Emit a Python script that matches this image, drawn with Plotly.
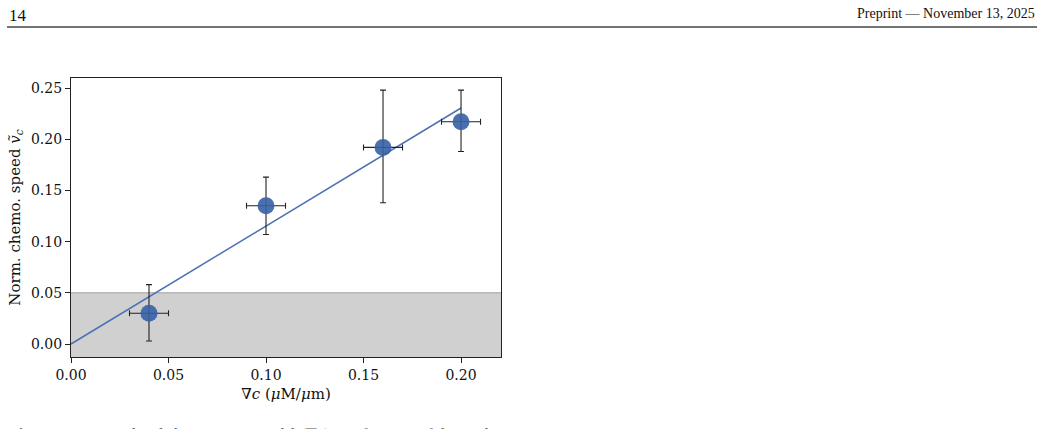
import plotly.graph_objects as go

# Data
grad_c = [0.04, 0.10, 0.16, 0.20]
speed = [0.030, 0.135, 0.192, 0.217]
speed_err_plus = [0.028, 0.028, 0.056, 0.031]
speed_err_minus = [0.027, 0.028, 0.054, 0.029]
grad_err = [0.010, 0.010, 0.010, 0.010]
fit_x = [0.0, 0.20]
fit_y = [0.0, 0.2305]
threshold = 0.05

x_ticks = [0.00, 0.05, 0.10, 0.15, 0.20]
y_ticks = [0.00, 0.05, 0.10, 0.15, 0.20, 0.25]

font_fam = "DejaVu Serif"
blue = "#4c72b0"

fig = go.Figure()

fig.add_shape(type="rect", xref="x domain", yref="y", x0=0, x1=1, y0=-0.05, y1=threshold,
              fillcolor="#d0d0d0", line=dict(width=0), layer="below")
fig.add_shape(type="line", xref="x domain", yref="y", x0=0, x1=1, y0=threshold, y1=threshold,
              line=dict(color="#a0a0a0", width=1), layer="below")

fig.add_trace(go.Scatter(x=fit_x, y=fit_y, mode="lines",
                         line=dict(color=blue, width=1.5), showlegend=False))

fig.add_trace(go.Scatter(
    x=grad_c, y=speed, mode="markers",
    marker=dict(color="#3760a6", size=17, opacity=0.9, line=dict(width=0)),
    error_y=dict(type="data", symmetric=False, array=speed_err_plus, arrayminus=speed_err_minus,
                 color="#222222", thickness=1.1, width=3),
    error_x=dict(type="data", array=grad_err, color="#222222", thickness=1.1, width=3),
    showlegend=False))

fig.update_xaxes(range=[0, 0.2205], tickvals=x_ticks, ticktext=[f"{v:.2f}" for v in x_ticks],
                 showgrid=False, zeroline=False, showline=True, linecolor="#222222", linewidth=1.2,
                 mirror=True, ticks="outside", ticklen=5, tickcolor="#222222",
                 tickfont=dict(family=font_fam, size=14, color="#111111"),
                 title=dict(text="∇<i>c</i> (<i>μ</i>M/<i>μ</i>m)", standoff=6,
                            font=dict(family=font_fam, size=15, color="#111111")))
fig.update_yaxes(range=[-0.0127, 0.2598], tickvals=y_ticks, ticktext=[f"{v:.2f}" for v in y_ticks],
                 showgrid=False, zeroline=False, showline=True, linecolor="#222222", linewidth=1.2,
                 mirror=True, ticks="outside", ticklen=5, tickcolor="#222222",
                 tickfont=dict(family=font_fam, size=14, color="#111111"),
                 title=dict(text="Norm. chemo. speed <i>ṽ</i><sub><i>c</i></sub>", standoff=6,
                            font=dict(family=font_fam, size=15, color="#111111")))

# page header
fig.add_annotation(text="14", xref="paper", yref="paper", x=(7 - 71) / 430, y=(357 - 4) / 279,
                   xanchor="left", yanchor="top", showarrow=False,
                   font=dict(family="Liberation Serif", size=17, color="#111111"))
fig.add_annotation(text="Preprint — November 13, 2025", xref="paper", yref="paper",
                   x=(1037 - 71) / 430, y=(357 - 4) / 279, xanchor="right", yanchor="top",
                   showarrow=False, font=dict(family="Liberation Serif", size=14, color="#111111"))
fig.add_shape(type="line", xref="paper", yref="paper", x0=(7 - 71) / 430, x1=(1037 - 71) / 430,
              y0=(357 - 27) / 279, y1=(357 - 27) / 279, line=dict(color="#444444", width=1.5))

# partially visible caption (cut by the bottom edge, as in the reference)
fig.add_annotation(text="<b>Figure 10:</b>  Normalized chemotactic speed <i>ṽ</i><sub><i>c</i></sub>(∇<i>c</i>) as a function of the gradient",
                   xref="paper", yref="paper", x=(7 - 71) / 430, y=(357 - 424) / 279,
                   xanchor="left", yanchor="top", showarrow=False,
                   font=dict(family="Liberation Serif", size=16, color="#555555"))

fig.update_layout(width=1044, height=429, margin=dict(l=71, r=543, t=78, b=72),
                  plot_bgcolor="white", paper_bgcolor="white")

fig.write_html("out.html")
